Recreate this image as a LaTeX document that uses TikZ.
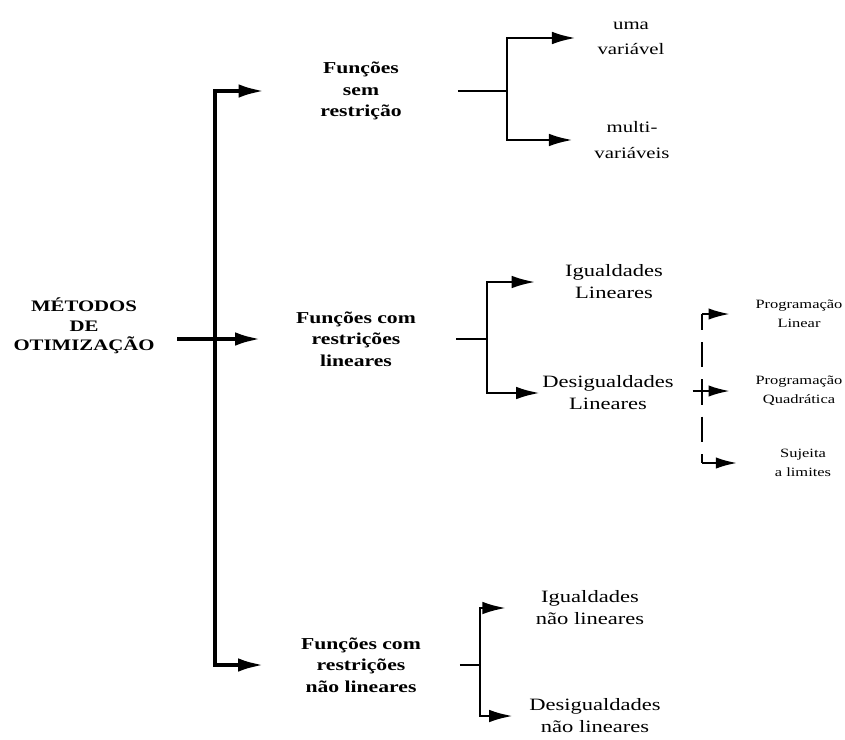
\documentclass[tikz,border=0pt]{standalone}
\usepackage{fontspec}
\setmainfont{Liberation Serif}[FakeStretch=1.3]
\usepackage{tikz}
\usetikzlibrary{arrows.meta, positioning}

\begin{document}
\begin{tikzpicture}[
    x=0.75pt, y=-0.75pt,
    rootlabel/.style={align=center, inner sep=0pt, font=\bfseries\fontsize{12}{14.5}\selectfont},
    mainlabel/.style={align=center, inner sep=0pt, font=\bfseries\fontsize{12.5}{16}\selectfont},
    sublabel/.style={align=center, inner sep=0pt, font=\fontsize{13}{16.5}\selectfont},
    varlabel/.style={align=center, inner sep=0pt, font=\fontsize{12}{19}\selectfont},
    smalllabel/.style={align=center, inner sep=0pt, font=\fontsize{9.5}{14}\selectfont},
    bigarrow/.style={line width=3.3pt, -{Latex[length=20pt, width=10pt]}},
    subarrow/.style={line width=2.2pt, -{Latex[length=18pt, width=9.5pt]}},
    subline/.style={line width=2.2pt},
    smallarrow/.style={line width=1.8pt, -{Latex[length=16pt, width=8.5pt]}},
    dashline/.style={line width=1.8pt, dash pattern=on 19pt off 9pt, dash phase=7pt}
]
    \useasboundingbox (0,0) rectangle (845,739);

    % Nodes
    \node[rootlabel] (root) at (84,326) {MÉTODOS\\DE\\OTIMIZAÇÃO};
    \node[mainlabel] (fsem) at (361,91) {Funções\\sem\\restrição};
    \node[mainlabel] (fcom) at (356,339) {Funções com\\restrições\\lineares};
    \node[mainlabel] (fnao) at (361,665) {Funções com\\restrições\\não lineares};

    \node[varlabel] (uma) at (631,38) {uma\\variável};
    \node[varlabel] (multi) at (632,140) {multi-\\variáveis};

    \node[sublabel] (igl) at (614,282) {Igualdades\\Lineares};
    \node[sublabel] (desl) at (608,393) {Desigualdades\\Lineares};

    \node[smalllabel] (plin) at (799,314) {Programação\\Linear};
    \node[smalllabel] (pquad) at (799,391) {Programação\\Quadrática};
    \node[smalllabel] (slim) at (803,463) {Sujeita\\a limites};

    \node[sublabel] (ign) at (590,608) {Igualdades\\não lineares};
    \node[sublabel] (desn) at (595,716) {Desigualdades\\não lineares};

    % Junctions
    \coordinate (jmain) at (215,339);
    \coordinate (jsem) at (507,91);
    \coordinate (jcom) at (487,339);
    \coordinate (jdes) at (702,391);
    \coordinate (jnao) at (480,665);

    % Main trunk
    \draw[bigarrow, shorten <=17pt, shorten >=25.5pt] (root.east |- fcom) -- (fcom);
    \draw[bigarrow, shorten >=41pt] (jmain) |- (fsem);
    \draw[bigarrow, shorten >=27pt] (jmain) |- (fnao);

    % Funcoes sem restricao
    \draw[subline, shorten <=42pt] (fsem) -- (jsem);
    \draw[subarrow, shorten >=16pt] (jsem) |- (uma);
    \draw[subarrow, shorten >=16pt] (jsem) |- (multi);

    % Funcoes com restricoes lineares
    \draw[subline, shorten <=30pt] (fcom) -- (jcom);
    \draw[subarrow, shorten >=22pt] (jcom) |- (igl);
    \draw[subarrow, shorten >=1.5pt] (jcom) |- (desl);

    % Desigualdades lineares
    \draw[subline, shorten <=14pt] (desl.east |- jdes) -- (jdes);
    \draw[dashline] (jdes |- plin) -- (jdes |- slim);
    \draw[smallarrow, shorten >=19pt] (jdes |- plin) -- (plin);
    \draw[smallarrow, shorten >=19pt] (jdes) -- (pquad);
    \draw[smallarrow, shorten >=28pt] (jdes |- slim) -- (slim);

    % Funcoes com restricoes nao lineares
    \draw[subline, shorten <=29pt] (fnao) -- (jnao);
    \draw[subarrow, shorten >=22pt] (jnao) |- (ign);
    \draw[subarrow, shorten >=12pt] (jnao) |- (desn);
\end{tikzpicture}
\end{document}
